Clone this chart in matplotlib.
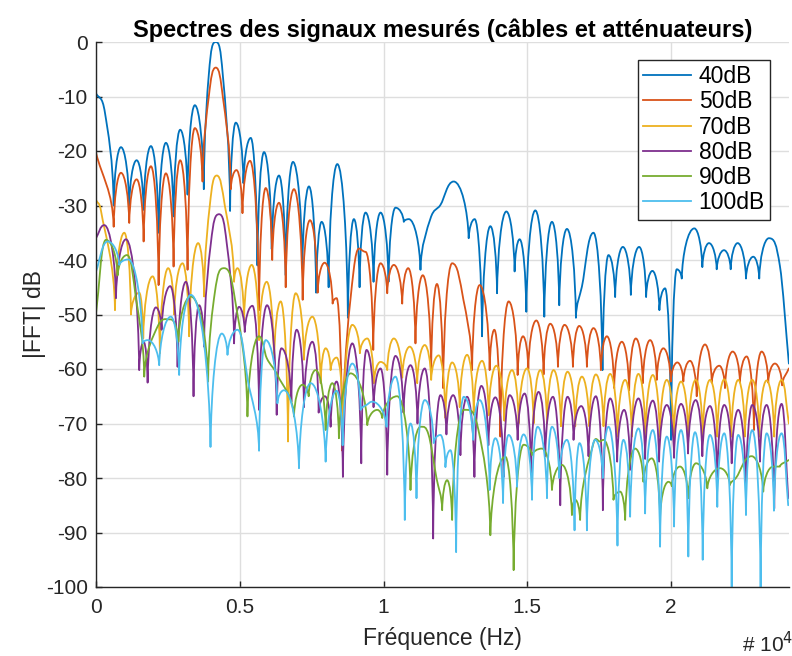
import matplotlib
matplotlib.use('Agg')
import matplotlib.pyplot as plt
from matplotlib.ticker import FuncFormatter, MultipleLocator
from matplotlib.path import Path
from matplotlib.patches import PathPatch

plt.rcParams['font.family'] = ['Liberation Sans', 'DejaVu Sans']
plt.rcParams['axes.unicode_minus'] = False

series_names = ['40dB', '50dB', '70dB', '80dB', '90dB', '100dB']
colors = ['#0072BD', '#D95319', '#EDB120', '#7E2F8E', '#77AC30', '#4DBEEE']

# ---- 40 dB ----
f_40 = [0, 312, 615, 868, 1156, 1413, 1656, 1910, 2177, 2430, 2698, 2927, 3184, 3437, 3750, 3923, 4167, 4409, 4663,
        4861, 5128, 5382, 5614, 5844, 6111, 6364, 6597, 6850, 7177, 7406, 7656, 7847, 8090, 8392, 8760, 8968, 9166,
        9375, 9652, 9896, 10173, 10416, 10704, 10878, 11284, 11631, 11978, 12440, 12961, 13169, 13426, 13714, 13947,
        14270, 14558, 14732, 14965, 15277, 15590, 15857, 16110, 16378, 16690, 16898, 17301, 17614, 17822, 18054,
        18322, 18600, 18888, 19131, 19350, 19593, 19791, 19999, 20197, 20370, 20808, 21086, 21318, 21586, 21840,
        22072, 22315, 22604, 22857, 23065, 23402, 23784, 24096]
db_40 = [-9.4, -13, -30, -19.3, -30, -21.7, -30.8, -19.1, -35, -18.5, -32, -16.1, -28, -11.6, -27, -6, 0, -6, -31,
         -14.8, -25.9, -17.6, -41, -20.2, -38, -24.5, -42.8, -22, -41.5, -26.5, -46, -33, -45, -22.4, -50.6, -32.5,
         -45, -31.3, -44, -31.3, -44, -30.4, -33, -32.5, -41.8, -32.4, -29.9, -25.6, -36, -32.5, -54, -33.8, -46.1,
         -31.1, -42.1, -36.2, -49.5, -30.9, -50.4, -33, -48.3, -34.3, -50.6, -44.9, -35, -60.2, -39.1, -46.8, -37.6,
         -46.4, -37.6, -46.8, -42, -49.2, -45.2, -73, -41.7, -43.4, -34.2, -41.3, -36.9, -41.7, -38.2, -41.7, -36.9,
         -43.4, -39.4, -43.4, -36, -41.1, -59]

# ---- 50 dB ----
f_50 = [0, 615, 868, 1156, 1413, 1656, 1910, 2177, 2430, 2698, 2927, 3184, 3437, 3705, 3923, 4166, 4409, 4687, 4885,
        5094, 5357, 5670, 5902, 6128, 6364, 6597, 6885, 7187, 7441, 7708, 7951, 8229, 8368, 8565, 8958, 9374, 9642,
        9895, 10128, 10357, 10649, 10857, 11110, 11364, 11656, 11857, 12072, 12385, 12777, 13079, 13343, 13690,
        13853, 14062, 14350, 14663, 14850, 15034, 15312, 15565, 15798, 16065, 16295, 16586, 16805, 17072, 17301,
        17558, 17766, 18020, 18287, 18541, 18773, 19016, 19270, 19502, 19731, 19988, 20217, 20426, 20658, 20891,
        21179, 21412, 21676, 21874, 22141, 22394, 22627, 22881, 23148, 23377, 23610, 23863, 24096]
db_50 = [-20.3, -33.9, -24, -33.2, -25.2, -36.6, -22.8, -44.6, -24.1, -41.2, -21.7, -41.8, -15.8, -25.6, -10, -4.7,
         -10, -27, -23.5, -31.4, -21.8, -49.2, -26.8, -40, -29.5, -45, -27, -47.3, -32.7, -46, -40.5, -48, -47, -75,
         -42, -38.5, -56.5, -40.6, -46.1, -40.9, -48, -41.5, -55.3, -42.8, -60.2, -44.4, -63.5, -40.6, -47.3, -60.2,
         -44.6, -60.2, -52.8, -72.4, -47.6, -61.1, -54, -60, -51.1, -61, -51.7, -59.6, -51.9, -59.6, -52.1, -59.6,
         -52.5, -60.2, -54, -63.5, -55, -63.9, -54.4, -62.6, -54.7, -62, -56.2, -62.3, -58.8, -62.3, -58.5, -65,
         -55.5, -62.5, -59.4, -63.5, -56.8, -62.5, -57.7, -71.2, -56.8, -62.5, -59, -63, -59.9]

# ---- 70 dB ----
f_70 = [0, 174, 660, 983, 1215, 1503, 1642, 1969, 2222, 2510, 2719, 3010, 3239, 3552, 3760, 3958, 4201, 4479, 4802,
        4920, 5149, 5416, 5670, 5937, 6191, 6423, 6677, 6944, 7232, 7524, 7812, 7986, 8159, 8368, 8600, 8913, 9177,
        9434, 9663, 9895, 10128, 10357, 10649, 10913, 11170, 11433, 11656, 11920, 12152, 12385, 12649, 12906, 13135,
        13426, 13655, 13923, 14201, 14468, 14697, 14989, 15218, 15451, 15684, 15913, 16169, 16399, 16666, 16898,
        17152, 17384, 17649, 17881, 18135, 18402, 18634, 18864, 19107, 19364, 19607, 19850, 20093, 20346, 20599,
        20856, 21099, 21353, 21606, 21849, 22093, 22335, 22568, 22822, 23065, 23322, 23586, 23842, 24096]
db_70 = [-29, -31, -49.2, -35, -50, -46, -54.4, -43, -57.1, -41.5, -50, -40.6, -54, -36.9, -46.7, -30, -24.5, -30,
         -44, -41.5, -51, -40.9, -54.7, -44, -59, -47.6, -73.3, -46.1, -58.3, -50.4, -62.6, -56.2, -60.2, -57.9, -70,
         -51.9, -57.1, -54.4, -62.6, -58.7, -60.2, -54.4, -61.6, -55.9, -62.6, -55.6, -62, -57.5, -69, -58.8, -67,
         -57.4, -68, -58.5, -68.5, -59.4, -69.5, -60.2, -70, -59.9, -70, -60.2, -70, -60.2, -70.5, -60.5, -70.5,
         -61.4, -70.5, -61, -70.5, -60.9, -72.4, -62, -72.4, -60.9, -72.4, -61.1, -72.4, -62, -72.4, -62.3, -72.4,
         -62, -72.4, -62, -72.4, -61.9, -72.4, -62, -72.4, -62, -72.4, -62.1, -72.4, -62, -70]

# ---- 80 dB ----
f_80 = [0, 288, 694, 1042, 1503, 1656, 1795, 2083, 2281, 2580, 2837, 3125, 3392, 3587, 3760, 3993, 4281, 4548, 4802,
        4975, 5173, 5441, 5670, 5948, 6284, 6448, 6795, 6979, 7232, 7524, 7743, 7961, 8159, 8368, 8586, 8913, 9225,
        9409, 9652, 9895, 10128, 10416, 10694, 10937, 11180, 11433, 11725, 11978, 12187, 12420, 12673, 12906, 13160,
        13402, 13645, 13888, 14177, 14385, 14663, 14906, 15128, 15391, 15624, 15891, 16145, 16399, 16607, 16874,
        17128, 17384, 17627, 17881, 18124, 18367, 18575, 18864, 19096, 19364, 19582, 19850, 20103, 20346, 20589,
        20856, 21086, 21353, 21606, 21849, 22107, 22335, 22604, 22822, 23089, 23322, 23586, 23842, 24072]
db_80 = [-36, -33.6, -47, -36.2, -60.2, -55, -62.5, -48.7, -52.8, -44.8, -59.6, -44, -65, -48.3, -55.9, -37, -31.6,
         -37, -55.3, -48.6, -53.2, -48.4, -67.5, -48.3, -68.4, -56.2, -66, -52.8, -67, -55, -68, -65, -70.6, -62.3,
         -79.8, -55.3, -77.3, -56.5, -67, -59.9, -79.4, -57.6, -68, -59.3, -70, -59.9, -91.1, -64.8, -72, -64.8,
         -75.8, -65.1, -79.8, -63.1, -74, -65.2, -79.8, -64.8, -73, -64.5, -79.1, -64.2, -76, -65.1, -85, -65.1, -73,
         -66.8, -76, -65, -85.9, -65.4, -77, -67.5, -78.5, -65.4, -76.5, -65.8, -77, -66.6, -76.3, -66.4, -75.5,
         -65.7, -76, -66.8, -80.4, -66.6, -77.3, -67.5, -82.5, -66.6, -77, -66.6, -85.6, -66.4, -83.7]

# ---- 90 dB ----
f_90 = [0, 347, 753, 1076, 1389, 1677, 2142, 2604, 2864, 3298, 3899, 4132, 4455, 4826, 5267, 5670, 5937, 6309, 6885,
        7177, 7396, 7638, 7986, 8218, 8448, 8854, 9434, 9781, 9954, 10475, 10937, 11284, 11562, 11840, 12038, 12211,
        12385, 12788, 13308, 13714, 14235, 14524, 14871, 15163, 15510, 15857, 16204, 16551, 16666, 16836, 17301,
        17534, 17649, 17996, 18228, 18402, 18749, 19037, 19329, 19617, 19906, 20023, 20311, 20599, 20867, 21259,
        21700, 22047, 22255, 22801, 23204, 23551, 23784, 24096]
db_90 = [-49.8, -36.3, -42.8, -39.1, -47, -61.4, -52.2, -50.9, -55, -46.7, -62.3, -46, -41.5, -47, -68.7, -54, -58,
         -61.1, -68.7, -62.9, -65, -60.2, -71.2, -62.6, -72.7, -60.8, -70.3, -67.5, -69, -65, -82.2, -70.6, -72, -80,
         -85.9, -80.4, -87.7, -67.5, -71.4, -90.5, -76.1, -96.9, -73.9, -75.8, -74.6, -82.2, -77.6, -86.8, -84,
         -87.7, -73.6, -73.3, -73, -84, -82.5, -87.7, -74.6, -80.7, -76.4, -87.1, -80.7, -81.5, -77.9, -83.7, -77.3,
         -81.9, -78.2, -81.3, -80, -76, -82.5, -77.9, -77.9, -76.7]

# ---- 100 dB ----
f_100 = [0, 406, 809, 1121, 1621, 1795, 2198, 2604, 2892, 3298, 3982, 4375, 4573, 4920, 5277, 5670, 5902, 6309, 6538,
         7059, 7465, 7986, 8368, 8576, 8913, 9201, 9434, 9607, 10104, 10416, 10739, 10937, 11146, 11433, 11746,
         11978, 12152, 12326, 12524, 12788, 13114, 13343, 13690, 13888, 14156, 14350, 14642, 14871, 15163, 15357,
         15684, 15857, 16110, 16377, 16642, 16815, 17072, 17360, 17627, 17822, 18135, 18343, 18575, 18864, 19096,
         19364, 19617, 19850, 20103, 20346, 20599, 20832, 21099, 21353, 21606, 21849, 22107, 22335, 22604, 22822,
         23113, 23322, 23576, 23842, 24072]
db_100 = [-42.1, -36.6, -40.9, -39.9, -55.3, -54.7, -59.3, -50.4, -61.1, -46.4, -74.3, -53.5, -57.4, -52.8, -62, -75,
          -54.7, -66.3, -63.9, -78.2, -62.6, -77, -64, -74, -59, -67.5, -66.5, -66, -70.6, -61.4, -87.7, -70, -83.7,
          -65.7, -73.6, -72.1, -78, -74.9, -93.6, -65.1, -73, -65.7, -82.2, -72.7, -84.6, -72.1, -81.6, -72, -84,
          -70.6, -83.7, -70.6, -80, -73, -89.6, -73.6, -89.6, -73, -80, -70.6, -92.4, -73, -87.1, -70.9, -86.5,
          -71.2, -92.6, -72.4, -88.9, -71.2, -94.4, -71.6, -95, -72.1, -85.3, -71.8, -100, -72.1, -86.8, -71.2,
          -100, -71.8, -86, -71.8, -85]

freqs = [f_40, f_50, f_70, f_80, f_90, f_100]
levels = [db_40, db_50, db_70, db_80, db_90, db_100]

title_text = 'Spectres des signaux mesurés (câbles et atténuateurs)'
xlabel_text = 'Fréquence (Hz)'
ylabel_text = '|FFT| dB'
exp_text = '# 10$^4$'


def lobe_path(xs, ys):
    """Smooth path through the read peaks/nulls: flat tangents at peaks,
    steep tangents at nulls (spectral lobe look)."""
    n = len(xs)
    kinds = []
    for i in range(n):
        if i == 0 or i == n - 1:
            kinds.append('end')
        elif ys[i] >= ys[i - 1] and ys[i] >= ys[i + 1]:
            kinds.append('max')
        elif ys[i] <= ys[i - 1] and ys[i] <= ys[i + 1]:
            kinds.append('min')
        else:
            kinds.append('mid')

    def ctrl(j, k):
        s = 1 if k > j else -1
        dxs = abs(xs[k] - xs[j])
        kd = kinds[j]
        if kd == 'max':
            return (xs[j] + s * 0.5 * dxs, ys[j])
        if kd == 'min':
            return (xs[j] + s * 0.06 * dxs, ys[j] + 0.5 * (ys[k] - ys[j]))
        if kd == 'mid':
            m = (ys[j + 1] - ys[j - 1]) / (xs[j + 1] - xs[j - 1])
            return (xs[j] + s * dxs / 3, ys[j] + s * m * dxs / 3)
        return (xs[j] + s * dxs / 3, ys[j] + (ys[k] - ys[j]) / 3)

    verts = [(xs[0], ys[0])]
    codes = [Path.MOVETO]
    for i in range(n - 1):
        verts += [ctrl(i, i + 1), ctrl(i + 1, i), (xs[i + 1], ys[i + 1])]
        codes += [Path.CURVE4] * 3
    return Path(verts, codes)


W, H = 792, 656
fig = plt.figure(figsize=(W / 100, H / 100), dpi=100)
ax = fig.add_axes([96 / W, 1 - 587 / H, (789 - 96) / W, (587 - 42) / H])

LW = 1.3
for f, d, c, n in zip(freqs, levels, colors, series_names):
    ax.add_patch(PathPatch(lobe_path(f, d), facecolor='none', edgecolor=c, lw=LW,
                           joinstyle='round', capstyle='round'))
    ax.plot([], [], color=c, lw=LW, label=n)

ax.set_xlim(0, 24100)
ax.set_ylim(-100, 0)
ax.xaxis.set_major_locator(MultipleLocator(5000))
ax.yaxis.set_major_locator(MultipleLocator(10))
ax.xaxis.set_major_formatter(FuncFormatter(lambda v, p: '%g' % (v / 1e4)))
ax.yaxis.set_major_formatter(FuncFormatter(lambda v, p: '%g' % v))
ax.grid(True, color='#dedede', lw=1.0)
ax.set_axisbelow(True)
for s in ['top', 'right']:
    ax.spines[s].set_visible(False)
for s in ['left', 'bottom']:
    ax.spines[s].set_color('#262626')
    ax.spines[s].set_linewidth(1.0)
ax.tick_params(direction='in', length=4, width=1.0, colors='#262626', labelsize=15, labelcolor='#262626')
ax.tick_params(axis='x', pad=8)
ax.tick_params(axis='y', pad=6)

ax.set_title(title_text, fontsize=17, fontweight='bold', pad=1)
ax.set_xlabel(xlabel_text, fontsize=16.5, color='#262626', labelpad=7)
ax.set_ylabel(ylabel_text, fontsize=16.5, color='#262626', labelpad=0)

fig.text(742 / W, 1 - 652 / H, exp_text, fontsize=15, color='#262626', ha='left', va='baseline')

leg = ax.legend(loc='upper right', bbox_to_anchor=(0.9726, 0.967), fontsize=16.5, frameon=True, fancybox=False,
                edgecolor='#262626', framealpha=1, handlelength=2.1, handletextpad=0.35, labelspacing=0.1,
                borderpad=0.22, borderaxespad=0)
leg.get_frame().set_linewidth(1.0)

fig.savefig('out.png', dpi=100)
